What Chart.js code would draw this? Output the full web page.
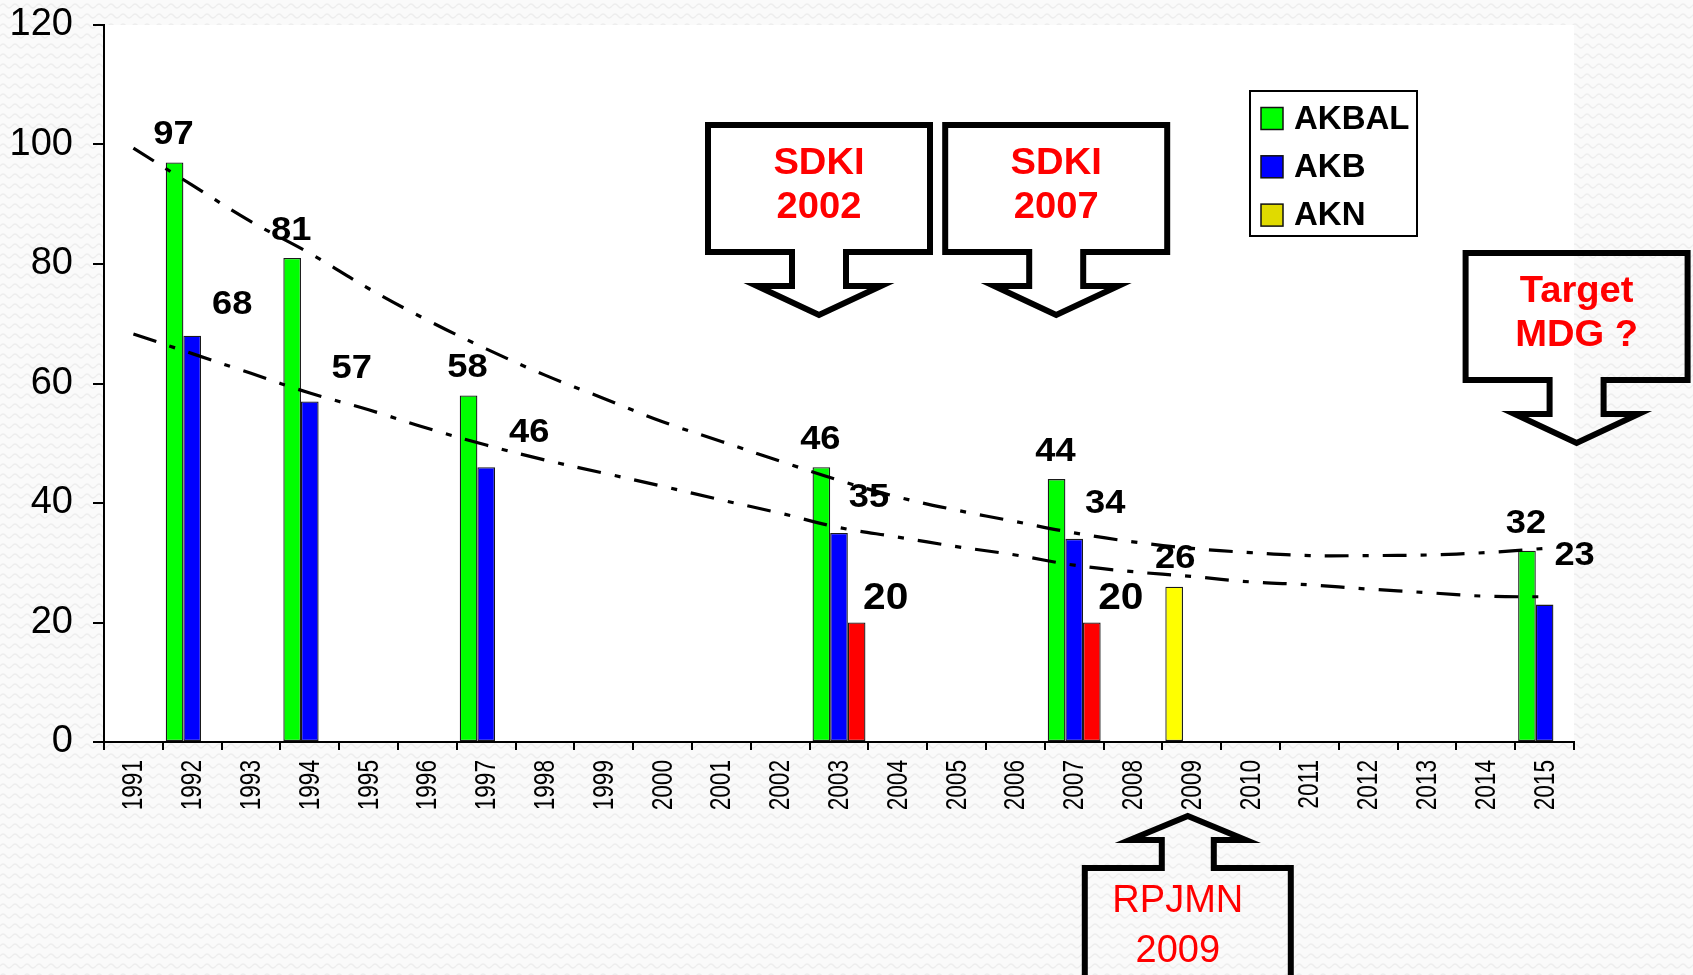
<!DOCTYPE html>
<html>
<head>
<meta charset="utf-8">
<title>AKBAL / AKB / AKN 1991-2015</title>
<script src="https://cdn.jsdelivr.net/npm/chart.js@4.4.1/dist/chart.umd.min.js"></script>
<style>
  html, body {
    margin: 0; padding: 0;
    background: #fafafa url("data:image/svg+xml;utf8,<svg xmlns='http://www.w3.org/2000/svg' width='12' height='10'><path d='M0 6 Q3 2 6 6 T12 6' fill='none' stroke='%23ededed' stroke-width='1.4'/></svg>");
  }
  canvas { display: block; }
</style>
</head>
<body>
<canvas id="mortality" width="1693" height="975"></canvas>
<script>
// survey years on the x axis
const years = ['1991', '1992', '1993', '1994', '1995', '1996', '1997', '1998', '1999', '2000',
  '2001', '2002', '2003', '2004', '2005', '2006', '2007', '2008', '2009', '2010',
  '2011', '2012', '2013', '2014', '2015'];

// AKBAL (under-five), AKB (infant), AKN (neonatal) per 1000 live births
const akbal = [null, 97, null, 81, null, null, 58, null, null, null, null, null, 46,
  null, null, null, 44, null, null, null, null, null, null, null, 32];
const akb = [null, 68, null, 57, null, null, 46, null, null, null, null, null, 35,
  null, null, null, 34, null, null, null, null, null, null, null, 23];
const aknSdki = [null, null, null, null, null, null, null, null, null, null, null, null, 20,
  null, null, null, 20, null, null, null, null, null, null, null, null];
const aknRpjmn = [null, null, null, null, null, null, null, null, null, null, null, null, null,
  null, null, null, null, null, 26, null, null, null, null, null, null];

// trend curves, one value per year
const trendAkbal = [99.4, 93.2, 87.1, 81.8, 75.9, 70.6, 65.8, 61.4, 57.5, 53.6, 50.3, 47.0, 43.8,
  41.0, 38.8, 36.9, 35.0, 33.5, 32.4, 31.7, 31.2, 31.2, 31.3, 31.7, 32.4];
const trendAkb = [68.3, 65.0, 61.7, 58.4, 55.6, 52.5, 49.7, 47.2, 45.0, 42.8, 40.5, 38.3, 35.9,
  34.3, 32.7, 31.3, 29.6, 28.5, 27.7, 26.8, 26.3, 25.6, 25.0, 24.4, 24.3];

const yMin = 0, yMax = 120, yStep = 20;

const legendItems = [
  { label: 'AKBAL', color: '#00ff00' },
  { label: 'AKB', color: '#0000ff' },
  { label: 'AKN', color: '#e0da00' },
];

const FONT = '"Liberation Sans", Arial, sans-serif';

// where the value labels sit relative to their bar (dx, gap above bar top)
const labelPlacement = {
  AKBAL: { dx: -1, gap: 18, size: 33 },
  AKB: { dx: 36, gap: 24, size: 33 },
  AKN_SDKI: { dx: 29, gap: 14, size: 37 },
  AKN_RPJMN: { dx: 1, gap: 19, size: 33 },
};
const labelNudge = {
  'AKB-1': [40, 22], 'AKB-3': [42, 23], 'AKB-6': [43, 25],
  'AKB-12': [30, 26], 'AKB-16': [31, 26], 'AKB-24': [30, 40],
};

// white plot background inside the axes
const plotBackground = {
  id: 'plotBackground',
  beforeDraw(chart) {
    const { ctx, chartArea: a } = chart;
    ctx.save();
    ctx.fillStyle = '#ffffff';
    ctx.fillRect(a.left, a.top, a.right - a.left, a.bottom - a.top);
    ctx.restore();
  }
};

// year labels: rotated, slightly condensed along the text direction
const yearLabels = {
  id: 'yearLabels',
  afterDraw(chart) {
    const { ctx } = chart;
    const xs = chart.scales.x;
    ctx.save();
    ctx.fillStyle = '#000';
    ctx.font = '29px ' + FONT;
    ctx.textAlign = 'right';
    ctx.textBaseline = 'middle';
    chart.data.labels.forEach((lab, i) => {
      ctx.save();
      ctx.translate(xs.getPixelForValue(i) + 1, xs.top + 18);
      ctx.rotate(-Math.PI / 2);
      ctx.scale(0.78, 1);
      ctx.fillText(lab, 0, 0);
      ctx.restore();
    });
    ctx.restore();
  }
};

const valueLabels = {
  id: 'valueLabels',
  afterDatasetsDraw(chart) {
    const { ctx } = chart;
    ctx.save();
    ctx.fillStyle = '#000';
    ctx.textAlign = 'center';
    ctx.textBaseline = 'alphabetic';
    chart.data.datasets.forEach((ds, di) => {
      if (ds.type === 'line') return;
      const place = labelPlacement[ds.key];
      const meta = chart.getDatasetMeta(di);
      meta.data.forEach((bar, i) => {
        const v = ds.data[i];
        if (v === null) return;
        let dx = place.dx, gap = place.gap;
        const n = labelNudge[ds.key + '-' + i];
        if (n) { dx = n[0]; gap = n[1]; }
        ctx.font = 'bold ' + place.size + 'px ' + FONT;
        ctx.save();
        ctx.translate(bar.x + dx, bar.y - gap);
        ctx.scale(1.1, 1);
        ctx.fillText(String(v), 0, 0);
        ctx.restore();
      });
    });
    ctx.restore();
  }
};

const boxedLegend = {
  id: 'boxedLegend',
  afterDraw(chart) {
    const { ctx } = chart;
    const left = 1250, top = 91, w = 167, h = 145;
    ctx.save();
    ctx.fillStyle = '#fff';
    ctx.fillRect(left, top, w, h);
    ctx.lineWidth = 2;
    ctx.strokeStyle = '#000';
    ctx.strokeRect(left, top, w, h);
    ctx.font = 'bold 33px ' + FONT;
    ctx.textBaseline = 'middle';
    ctx.textAlign = 'left';
    legendItems.forEach((item, i) => {
      const cy = 118.5 + i * 48.3;
      ctx.fillStyle = item.color;
      ctx.fillRect(1261, cy - 11, 22, 22);
      ctx.lineWidth = 1.5;
      ctx.strokeStyle = '#111';
      ctx.strokeRect(1261, cy - 11, 22, 22);
      ctx.fillStyle = '#000';
      ctx.fillText(item.label, 1294, cy + 1);
    });
    ctx.restore();
  }
};

function wideText(ctx, text, x, y, sx) {
  ctx.save();
  ctx.translate(x, y);
  ctx.scale(sx, 1);
  ctx.fillText(text, 0, 0);
  ctx.restore();
}

// outlined arrow callouts
function calloutDown(ctx, cx, top, lines) {
  const w = 222, h = 127, stemHalf = 27, stemLen = 34, wingHalf = 62, head = 29;
  const l = cx - w / 2, r = cx + w / 2, b = top + h, wy = b + stemLen;
  ctx.beginPath();
  ctx.moveTo(l, top);
  ctx.lineTo(r, top);
  ctx.lineTo(r, b);
  ctx.lineTo(cx + stemHalf, b);
  ctx.lineTo(cx + stemHalf, wy);
  ctx.lineTo(cx + wingHalf, wy);
  ctx.lineTo(cx, wy + head);
  ctx.lineTo(cx - wingHalf, wy);
  ctx.lineTo(cx - stemHalf, wy);
  ctx.lineTo(cx - stemHalf, b);
  ctx.lineTo(l, b);
  ctx.closePath();
  ctx.stroke();
  ctx.fillStyle = '#ff0000';
  ctx.font = 'bold 36px ' + FONT;
  ctx.textAlign = 'center';
  ctx.textBaseline = 'alphabetic';
  wideText(ctx, lines[0], cx, top + 49, 1.06);
  wideText(ctx, lines[1], cx, top + 93, 1.06);
}

function calloutUp(ctx, cx, tip, lines) {
  const w = 206, h = 160, stemHalf = 26, stemLen = 28, wingHalf = 58, head = 24;
  const wy = tip + head, top = wy + stemLen, l = cx - w / 2, r = cx + w / 2;
  ctx.beginPath();
  ctx.moveTo(cx, tip);
  ctx.lineTo(cx + wingHalf, wy);
  ctx.lineTo(cx + stemHalf, wy);
  ctx.lineTo(cx + stemHalf, top);
  ctx.lineTo(r, top);
  ctx.lineTo(r, top + h);
  ctx.lineTo(l, top + h);
  ctx.lineTo(l, top);
  ctx.lineTo(cx - stemHalf, top);
  ctx.lineTo(cx - stemHalf, wy);
  ctx.lineTo(cx - wingHalf, wy);
  ctx.closePath();
  ctx.stroke();
  ctx.fillStyle = '#ff0000';
  ctx.font = '38px ' + FONT;
  ctx.textAlign = 'center';
  ctx.textBaseline = 'alphabetic';
  ctx.fillText(lines[0], cx - 10, top + 44);
  ctx.fillText(lines[1], cx - 10, top + 94);
}

const callouts = {
  id: 'callouts',
  afterDraw(chart) {
    const { ctx } = chart;
    const x = chart.scales.x;
    ctx.save();
    ctx.lineWidth = 6;
    ctx.lineJoin = 'miter';
    ctx.strokeStyle = '#000';
    calloutDown(ctx, x.getPixelForValue(12) - 20, 125, ['SDKI', '2002']);
    calloutDown(ctx, x.getPixelForValue(16) - 18, 125, ['SDKI', '2007']);
    calloutDown(ctx, x.getPixelForValue(24) + 32, 253, ['Target', 'MDG ?']);
    calloutUp(ctx, x.getPixelForValue(18) - 4, 816, ['RPJMN', '2009']);
    ctx.restore();
  }
};

const barBase = {
  type: 'bar',
  borderColor: '#1a1a1a',
  borderWidth: 1.3,
  borderSkipped: false,
  categoryPercentage: 0.9,
  barPercentage: 1.0,
  order: 1,
};
const trendBase = {
  type: 'line',
  borderColor: '#000',
  borderWidth: 3.2,
  borderDash: [24, 14, 6, 14],
  pointRadius: 0,
  tension: 0.4,
  fill: false,
  order: 0,
};

new Chart(document.getElementById('mortality'), {
  data: {
    labels: years,
    datasets: [
      { ...barBase, key: 'AKBAL', label: 'AKBAL', data: akbal, backgroundColor: '#00ff00', stack: 'a' },
      { ...barBase, key: 'AKB', label: 'AKB', data: akb, backgroundColor: '#0000ff', stack: 'b' },
      { ...barBase, key: 'AKN_SDKI', label: 'AKN', data: aknSdki, backgroundColor: '#ff0000', stack: 'c' },
      { ...barBase, key: 'AKN_RPJMN', label: 'AKN', data: aknRpjmn, backgroundColor: '#ffff00', stack: 'a' },
      { ...trendBase, key: 'trendAkbal', label: 'AKBAL trend', data: trendAkbal },
      { ...trendBase, key: 'trendAkb', label: 'AKB trend', data: trendAkb },
    ],
  },
  options: {
    responsive: false,
    animation: false,
    layout: { autoPadding: false, padding: { top: 25, right: 119, bottom: 0, left: 0 } },
    plugins: {
      legend: { display: false },
      title: { display: false },
      tooltip: { enabled: false },
    },
    scales: {
      x: {
        grid: { display: true, drawOnChartArea: false, drawTicks: true, tickLength: 8, color: '#000', lineWidth: 2 },
        border: { display: true, color: '#000', width: 2 },
        ticks: { display: false, autoSkip: false },
        afterFit(scale) { scale.height = 233; scale.paddingLeft = 0; scale.paddingRight = 0; },
      },
      y: {
        min: yMin,
        max: yMax,
        stacked: false,
        grid: { display: true, drawOnChartArea: false, drawTicks: true, tickLength: 11, color: '#000', lineWidth: 2 },
        border: { display: true, color: '#000', width: 2 },
        ticks: {
          stepSize: yStep,
          color: '#000',
          padding: 20,
          font: { family: FONT, size: 38 },
        },
        afterFit(scale) { scale.width = 104; scale.paddingTop = 0; scale.paddingBottom = 0; },
      },
    },
  },
  plugins: [plotBackground, valueLabels, yearLabels, boxedLegend, callouts],
});
</script>
</body>
</html>
